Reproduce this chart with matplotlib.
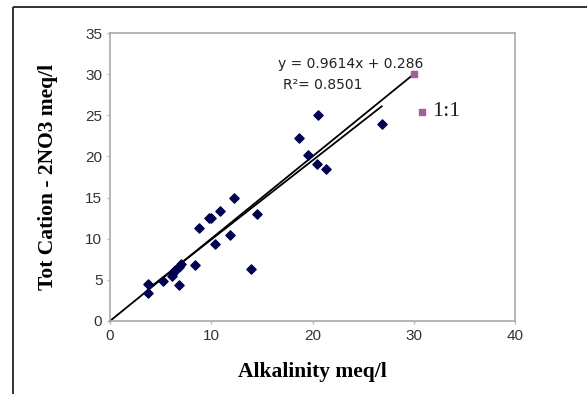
import matplotlib.pyplot as plt
from matplotlib.lines import Line2D

# Alkalinity vs Tot Cation - 2NO3 (meq/l)
alkalinity = [3.76, 3.76, 5.24, 6.09, 6.27, 6.46, 6.83, 7.0, 6.83, 8.41, 8.78, 9.77,
              9.95, 10.84, 10.36, 11.83, 12.28, 14.53, 13.95, 18.63, 19.52, 20.52,
              20.48, 21.37, 26.83]
tot_cation = [4.48, 3.46, 4.88, 5.49, 5.82, 6.15, 6.55, 6.92, 4.40, 6.84, 11.27, 12.54,
              12.54, 13.35, 9.36, 10.46, 14.9, 13.02, 6.27, 22.3, 20.19, 25.07,
              19.13, 18.52, 23.93]

slope = 0.9614
intercept = 0.286
r2 = 0.8501

one_to_one = [0, 30]

fig = plt.figure(figsize=(5.87, 3.94), dpi=100)
fig.patch.set_edgecolor('white')
fig.patch.set_linewidth(0)
ax = fig.add_axes([110 / 587, 73 / 394, 405 / 587, 288 / 394])

# outer chart border: only left and top edges are inside the image
bx, by = 12.5 / 587, (394 - 6.5) / 394
fig.add_artist(Line2D([bx, bx], [0, by], transform=fig.transFigure,
                      color='#222222', linewidth=1.3, solid_capstyle='butt'))
fig.add_artist(Line2D([bx, 1], [by, by], transform=fig.transFigure,
                      color='#222222', linewidth=1.3, solid_capstyle='butt'))

# 1:1 line
ax.plot(one_to_one, one_to_one, color='black', linewidth=1.3,
        marker='s', markersize=5, markevery=[1], markerfacecolor='#a0609a',
        markeredgecolor='#a0609a', zorder=2, clip_on=False)

# trendline
xmin, xmax = min(alkalinity), max(alkalinity)
ax.plot([xmin, xmax], [slope * xmin + intercept, slope * xmax + intercept],
        color='black', linewidth=1.3, zorder=2)

ax.scatter(alkalinity, tot_cation, marker='D', s=22, color='#000050', zorder=3)

ax.set_xlim(0, 40)
ax.set_ylim(0, 35)
ax.set_xticks([0, 10, 20, 30, 40])
ax.set_yticks([0, 5, 10, 15, 20, 25, 30, 35])
ax.tick_params(labelsize=11, colors='#bbbbbb', labelcolor='#333333',
               length=2, width=1)
for lbl in ax.get_xticklabels() + ax.get_yticklabels():
    lbl.set_fontfamily('Liberation Sans')
for s in ax.spines.values():
    s.set_color('#aaaaaa')
    s.set_linewidth(1.2)

ax.set_xlabel('Alkalinity meq/l', fontfamily='Liberation Serif',
              fontweight='bold', fontsize=15.5, labelpad=14)
ax.set_ylabel('Tot Cation - 2NO3 meq/l', fontfamily='Liberation Serif',
              fontweight='bold', fontsize=15.5, labelpad=20)

ax.text(16.6, 30.8, 'y = 0.9614x + 0.286', fontsize=10, color='#222222')
ax.text(17.1, 28.2, 'R²= 0.8501', fontsize=10, color='#222222')

# legend
ax.plot([30.8], [25.4], marker='s', markersize=5, color='#a0609a', clip_on=False)
ax.text(31.8, 25.4, '1:1', fontfamily='Liberation Serif', fontsize=16,
        va='center', color='#222222')

fig.savefig('out.png', dpi=100)
